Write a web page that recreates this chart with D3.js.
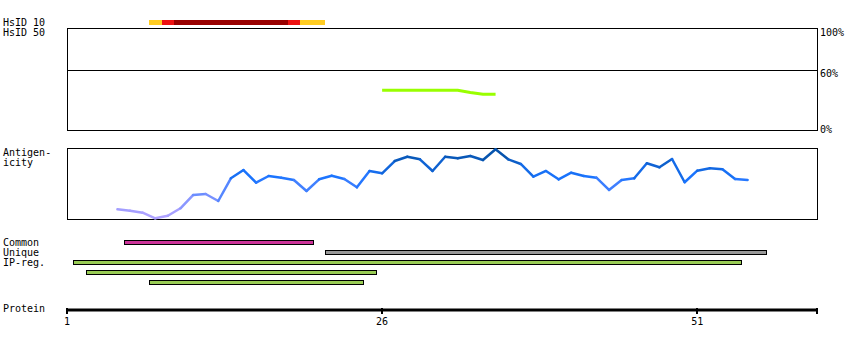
<!DOCTYPE html>
<html lang="en">
  <head>
    <meta charset="UTF-8" />
    <title>Protein overview</title>
    <style>
      body {
        margin: 0;
        background: #fff;
      }
      text {
        font-family: "DejaVu Sans Mono", monospace;
        font-size: 10px;
        fill: #000;
      }
    </style>
    <script src="https://d3js.org/d3.v7.min.js"></script>
  </head>
  <body>
  </body>
  <script>

    // residue axis
    protein_length = 60
    axis_ticks = [1, 26, 51]

    // HsID 10 coverage, one level per residue
    hsid_residues = [8, 9, 10, 11, 12, 13, 14, 15, 16, 17, 18, 19, 20, 21]
    hsid_levels   = [1, 2, 3, 3, 3, 3, 3, 3, 3, 3, 3, 2, 1, 1]
    hsid_colors   = { 1: "#ffcc22", 2: "#ee1111", 3: "#990000" }

    // HsID 50 identity line (%)
    identity_residues = [26, 27, 28, 29, 30, 31, 32, 33, 34, 35]
    identity_values   = [39, 39, 39, 39, 39, 39, 39, 36.8, 35, 35]
    identity_ticks    = [100, 60, 0]

    // antigenicity profile
    antigen_start = 5
    antigen_values = [14.9, 12.9, 10.1, 2.4, 5.9, 16.3, 34.7, 36.1, 26.4, 57.9,
                      69.4, 51.8, 61.1, 58.8, 55.6, 40.3, 56.5, 61.5, 56.9, 45.4,
                      68.1, 64.9, 81.9, 87.9, 84.3, 68.1, 87.9, 85.7, 88.9, 83.3,
                      98.2, 84.3, 77.8, 60.1, 68.1, 56.5, 65.7, 61.1, 58.8, 41.7,
                      55.6, 57.9, 78.8, 73.2, 84.7, 52.4, 68.5, 71.8, 70.4, 56.9,
                      55.6]

    // region bars [first residue, last residue]
    common_regions = [[6, 20]]
    unique_regions = [[22, 56]]
    ipreg_regions  = [[2, 54], [3, 25], [8, 24]]

    const svg = d3.select("body").append("svg")
        .attr("width", 850)
        .attr("height", 350);

    const x = d3.scaleLinear()
        .domain([1, protein_length + 0.5])
        .range([67, 817]);

    // ---- HsID bar
    svg.append("g").selectAll("rect")
      .data(hsid_residues)
      .enter().append("rect")
        .attr("x", d => x(d - 0.5))
        .attr("y", 20)
        .attr("width", d => x(d + 0.5) - x(d - 0.5))
        .attr("height", 5)
        .attr("fill", (d, i) => hsid_colors[hsid_levels[i]])
        .attr("shape-rendering", "crispEdges");

    svg.append("text").attr("x", 3).attr("y", 26).text("HsID 10");
    svg.append("text").attr("x", 3).attr("y", 36).text("HsID 50");

    // ---- identity panel
    const yId = d3.scaleLinear().domain([0, 100]).range([130, 28]);

    svg.append("rect")
        .attr("x", 67.5).attr("y", 28.5)
        .attr("width", 750).attr("height", 102)
        .attr("fill", "none").attr("stroke", "#000");

    svg.append("line")
        .attr("x1", 67).attr("x2", 817)
        .attr("y1", 70.5).attr("y2", 70.5)
        .attr("stroke", "#000");

    svg.append("g").selectAll("text")
      .data(identity_ticks)
      .enter().append("text")
        .attr("x", 820)
        .attr("y", d => yId(d) + (d == 0 ? 3 : 8))
        .text(d => d + "%");

    svg.append("path")
        .datum(identity_residues.map((r, i) => [r, identity_values[i]]))
        .attr("fill", "none")
        .attr("stroke", "#99ff00")
        .attr("stroke-width", 3)
        .attr("d", d3.line().x(d => x(d[0])).y(d => yId(d[1])));

    // ---- antigenicity panel
    const yAg = d3.scaleLinear().domain([0, 100]).range([220, 148]);
    const agColor = d3.scaleLinear()
        .domain([0, 20, 40, 60, 100])
        .range(["#b4a4ff", "#9c9cff", "#5c88ff", "#1a74ff", "#004a96"]);

    svg.append("rect")
        .attr("x", 67.5).attr("y", 148.5)
        .attr("width", 750).attr("height", 71)
        .attr("fill", "none").attr("stroke", "#000");

    svg.append("text").attr("x", 3).attr("y", 156).text("Antigen-");
    svg.append("text").attr("x", 3).attr("y", 166).text("icity");

    const agPoints = antigen_values.map((v, i) => [antigen_start + i, v]);
    svg.append("g").selectAll("line")
      .data(d3.pairs(agPoints))
      .enter().append("line")
        .attr("x1", d => x(d[0][0]))
        .attr("y1", d => yAg(d[0][1]))
        .attr("x2", d => x(d[1][0]))
        .attr("y2", d => yAg(d[1][1]))
        .attr("stroke", d => agColor((d[0][1] + d[1][1]) / 2))
        .attr("stroke-width", 2.5)
        .attr("stroke-linecap", "round");

    // ---- region bars
    const rows = [
      { label: "Common", color: "#cc3399", regions: common_regions },
      { label: "Unique", color: "#999999", regions: unique_regions },
      { label: "IP-reg.", color: "#99cc55", regions: ipreg_regions }
    ];

    let rowY = 240;
    rows.forEach(row => {
      svg.append("text").attr("x", 3).attr("y", rowY + 6).text(row.label);
      row.regions.forEach(reg => {
        svg.append("rect")
            .attr("x", Math.round(x(reg[0] - 0.5)) + 0.5)
            .attr("y", rowY + 0.5)
            .attr("width", Math.round(x(reg[1] + 0.5) - x(reg[0] - 0.5)))
            .attr("height", 4)
            .attr("fill", row.color)
            .attr("stroke", "#000");
        rowY += 10;
      });
    });

    // ---- protein axis
    svg.append("text").attr("x", 3).attr("y", 312).text("Protein");

    svg.append("line")
        .attr("x1", 67).attr("x2", 818)
        .attr("y1", 310).attr("y2", 310)
        .attr("stroke", "#000")
        .attr("stroke-width", 3);

    svg.append("g").selectAll("line")
      .data(axis_ticks.concat([protein_length + 0.5]))
      .enter().append("line")
        .attr("x1", d => Math.round(x(d))).attr("x2", d => Math.round(x(d)))
        .attr("y1", 308).attr("y2", 314)
        .attr("stroke", "#000")
        .attr("stroke-width", 2);

    svg.append("g").selectAll("text")
      .data(axis_ticks)
      .enter().append("text")
        .attr("x", d => x(d))
        .attr("y", 325)
        .attr("text-anchor", "middle")
        .text(d => d);

  </script>
</html>
